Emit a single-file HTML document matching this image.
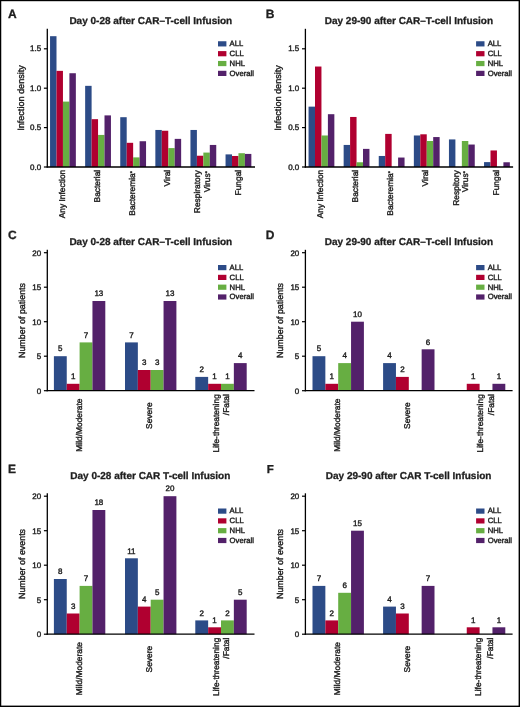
<!DOCTYPE html>
<html><head><meta charset="utf-8"><style>
html,body{margin:0;padding:0;background:#fff;}
body{width:520px;height:707px;overflow:hidden;}
svg{display:block;will-change:transform;}
text{font-family:"Liberation Sans", sans-serif;fill:#1e1e1e;text-rendering:geometricPrecision;stroke:#1e1e1e;stroke-width:0.4px;}
text[font-weight=bold]{stroke-width:0.3px;}
</style></head><body>
<svg width="520" height="707" viewBox="0 0 520 707">
<rect x="0" y="0" width="520" height="707" fill="#fff"/>
<text x="8.00" y="17.60" font-size="12" text-anchor="start" font-weight="bold">A</text>
<text x="150.80" y="23.60" font-size="10" text-anchor="middle" font-weight="bold">Day 0-28 after CAR–T-cell Infusion</text>
<rect x="50.05" y="36.19" width="6.45" height="130.81" fill="#2c4b87"/>
<rect x="56.50" y="70.86" width="6.45" height="96.14" fill="#b00030"/>
<rect x="62.95" y="101.60" width="6.45" height="65.40" fill="#67ae42"/>
<rect x="69.40" y="73.23" width="6.45" height="93.77" fill="#53216a"/>
<rect x="85.15" y="85.84" width="6.45" height="81.16" fill="#2c4b87"/>
<rect x="91.60" y="119.17" width="6.45" height="47.83" fill="#b00030"/>
<rect x="98.05" y="134.93" width="6.45" height="32.07" fill="#67ae42"/>
<rect x="104.50" y="115.39" width="6.45" height="51.61" fill="#53216a"/>
<rect x="120.25" y="117.20" width="6.45" height="49.80" fill="#2c4b87"/>
<rect x="126.70" y="142.81" width="6.45" height="24.19" fill="#b00030"/>
<rect x="133.15" y="157.39" width="6.45" height="9.61" fill="#67ae42"/>
<rect x="139.60" y="141.23" width="6.45" height="25.77" fill="#53216a"/>
<rect x="155.35" y="129.96" width="6.45" height="37.04" fill="#2c4b87"/>
<rect x="161.80" y="130.75" width="6.45" height="36.25" fill="#b00030"/>
<rect x="168.25" y="148.09" width="6.45" height="18.91" fill="#67ae42"/>
<rect x="174.70" y="138.87" width="6.45" height="28.13" fill="#53216a"/>
<rect x="190.45" y="129.96" width="6.45" height="37.04" fill="#2c4b87"/>
<rect x="196.90" y="155.73" width="6.45" height="11.27" fill="#b00030"/>
<rect x="203.35" y="152.58" width="6.45" height="14.42" fill="#67ae42"/>
<rect x="209.80" y="144.94" width="6.45" height="22.06" fill="#53216a"/>
<rect x="225.55" y="154.39" width="6.45" height="12.61" fill="#2c4b87"/>
<rect x="232.00" y="155.97" width="6.45" height="11.03" fill="#b00030"/>
<rect x="238.45" y="153.21" width="6.45" height="13.79" fill="#67ae42"/>
<rect x="244.90" y="153.92" width="6.45" height="13.08" fill="#53216a"/>
<line x1="47.30" y1="28.80" x2="47.30" y2="167.60" stroke="#000" stroke-width="1.3"/>
<line x1="46.65" y1="167.00" x2="255.00" y2="167.00" stroke="#000" stroke-width="1.3"/>
<line x1="43.90" y1="167.00" x2="47.30" y2="167.00" stroke="#000" stroke-width="1.2"/>
<text x="41.20" y="169.60" font-size="8" text-anchor="end">0.0</text>
<line x1="43.90" y1="127.60" x2="47.30" y2="127.60" stroke="#000" stroke-width="1.2"/>
<text x="41.20" y="130.20" font-size="8" text-anchor="end">0.5</text>
<line x1="43.90" y1="88.20" x2="47.30" y2="88.20" stroke="#000" stroke-width="1.2"/>
<text x="41.20" y="90.80" font-size="8" text-anchor="end">1.0</text>
<line x1="43.90" y1="48.80" x2="47.30" y2="48.80" stroke="#000" stroke-width="1.2"/>
<text x="41.20" y="51.40" font-size="8" text-anchor="end">1.5</text>
<text transform="translate(23.70,98.00) rotate(-90)" font-size="9.1" text-anchor="middle">Infection density</text>
<text transform="translate(64.90,169.80) rotate(-90)" font-size="8.4" text-anchor="end">Any Infection</text>
<text transform="translate(100.02,169.80) rotate(-90)" font-size="8.4" text-anchor="end">Bacterial</text>
<text transform="translate(135.14,171.10) rotate(-90)" font-size="8.4" text-anchor="end">Bacteremia<tspan font-size="5.6" dy="-1.1">*</tspan></text>
<text transform="translate(170.26,169.80) rotate(-90)" font-size="8.4" text-anchor="end">Viral</text>
<text transform="translate(200.48,170.30) rotate(-90)" font-size="8.4" text-anchor="end">Respiratory</text>
<text transform="translate(210.28,171.10) rotate(-90)" font-size="8.4" text-anchor="end">Virus<tspan font-size="5.6" dy="-1.1">*</tspan></text>
<text transform="translate(240.50,169.80) rotate(-90)" font-size="8.4" text-anchor="end">Fungal</text>
<rect x="218.00" y="41.25" width="8.40" height="5.20" fill="#2c4b87"/>
<text x="229.60" y="46.15" font-size="7.7" text-anchor="start">ALL</text>
<rect x="218.00" y="51.10" width="8.40" height="5.20" fill="#b00030"/>
<text x="229.60" y="56.00" font-size="7.7" text-anchor="start">CLL</text>
<rect x="218.00" y="60.95" width="8.40" height="5.20" fill="#67ae42"/>
<text x="229.60" y="65.85" font-size="7.7" text-anchor="start">NHL</text>
<rect x="218.00" y="70.80" width="8.40" height="5.20" fill="#53216a"/>
<text x="229.60" y="75.70" font-size="7.7" text-anchor="start">Overall</text>
<text x="265.70" y="17.60" font-size="12" text-anchor="start" font-weight="bold">B</text>
<text x="408.90" y="23.60" font-size="10" text-anchor="middle" font-weight="bold">Day 29-90 after CAR–T-cell Infusion</text>
<rect x="308.55" y="106.64" width="6.45" height="60.36" fill="#2c4b87"/>
<rect x="315.00" y="66.53" width="6.45" height="100.47" fill="#b00030"/>
<rect x="321.45" y="135.48" width="6.45" height="31.52" fill="#67ae42"/>
<rect x="327.90" y="114.20" width="6.45" height="52.80" fill="#53216a"/>
<rect x="343.65" y="144.94" width="6.45" height="22.06" fill="#2c4b87"/>
<rect x="350.10" y="116.96" width="6.45" height="50.04" fill="#b00030"/>
<rect x="356.55" y="162.27" width="6.45" height="4.73" fill="#67ae42"/>
<rect x="363.00" y="148.88" width="6.45" height="18.12" fill="#53216a"/>
<rect x="378.75" y="155.97" width="6.45" height="11.03" fill="#2c4b87"/>
<rect x="385.20" y="133.90" width="6.45" height="33.10" fill="#b00030"/>
<rect x="398.10" y="157.54" width="6.45" height="9.46" fill="#53216a"/>
<rect x="413.85" y="135.48" width="6.45" height="31.52" fill="#2c4b87"/>
<rect x="420.30" y="134.30" width="6.45" height="32.70" fill="#b00030"/>
<rect x="426.75" y="141.00" width="6.45" height="26.00" fill="#67ae42"/>
<rect x="433.20" y="137.06" width="6.45" height="29.94" fill="#53216a"/>
<rect x="448.95" y="139.42" width="6.45" height="27.58" fill="#2c4b87"/>
<rect x="461.85" y="141.00" width="6.45" height="26.00" fill="#67ae42"/>
<rect x="468.30" y="144.54" width="6.45" height="22.46" fill="#53216a"/>
<rect x="484.05" y="162.11" width="6.45" height="4.89" fill="#2c4b87"/>
<rect x="490.50" y="150.45" width="6.45" height="16.55" fill="#b00030"/>
<rect x="503.40" y="162.27" width="6.45" height="4.73" fill="#53216a"/>
<line x1="305.40" y1="28.80" x2="305.40" y2="167.60" stroke="#000" stroke-width="1.3"/>
<line x1="304.75" y1="167.00" x2="513.10" y2="167.00" stroke="#000" stroke-width="1.3"/>
<line x1="302.00" y1="167.00" x2="305.40" y2="167.00" stroke="#000" stroke-width="1.2"/>
<text x="299.30" y="169.60" font-size="8" text-anchor="end">0.0</text>
<line x1="302.00" y1="127.60" x2="305.40" y2="127.60" stroke="#000" stroke-width="1.2"/>
<text x="299.30" y="130.20" font-size="8" text-anchor="end">0.5</text>
<line x1="302.00" y1="88.20" x2="305.40" y2="88.20" stroke="#000" stroke-width="1.2"/>
<text x="299.30" y="90.80" font-size="8" text-anchor="end">1.0</text>
<line x1="302.00" y1="48.80" x2="305.40" y2="48.80" stroke="#000" stroke-width="1.2"/>
<text x="299.30" y="51.40" font-size="8" text-anchor="end">1.5</text>
<text transform="translate(281.10,98.00) rotate(-90)" font-size="9.1" text-anchor="middle">Infection density</text>
<text transform="translate(323.00,169.80) rotate(-90)" font-size="8.4" text-anchor="end">Any Infection</text>
<text transform="translate(358.12,169.80) rotate(-90)" font-size="8.4" text-anchor="end">Bacterial</text>
<text transform="translate(393.24,171.10) rotate(-90)" font-size="8.4" text-anchor="end">Bacteremia<tspan font-size="5.6" dy="-1.1">*</tspan></text>
<text transform="translate(428.36,169.80) rotate(-90)" font-size="8.4" text-anchor="end">Viral</text>
<text transform="translate(458.58,170.30) rotate(-90)" font-size="8.4" text-anchor="end">Respitory</text>
<text transform="translate(468.38,171.10) rotate(-90)" font-size="8.4" text-anchor="end">Virus<tspan font-size="5.6" dy="-1.1">*</tspan></text>
<text transform="translate(498.60,169.80) rotate(-90)" font-size="8.4" text-anchor="end">Fungal</text>
<rect x="476.10" y="41.25" width="8.40" height="5.20" fill="#2c4b87"/>
<text x="487.70" y="46.15" font-size="7.7" text-anchor="start">ALL</text>
<rect x="476.10" y="51.10" width="8.40" height="5.20" fill="#b00030"/>
<text x="487.70" y="56.00" font-size="7.7" text-anchor="start">CLL</text>
<rect x="476.10" y="60.95" width="8.40" height="5.20" fill="#67ae42"/>
<text x="487.70" y="65.85" font-size="7.7" text-anchor="start">NHL</text>
<rect x="476.10" y="70.80" width="8.40" height="5.20" fill="#53216a"/>
<text x="487.70" y="75.70" font-size="7.7" text-anchor="start">Overall</text>
<text x="8.00" y="238.85" font-size="12" text-anchor="start" font-weight="bold">C</text>
<text x="150.80" y="244.70" font-size="10" text-anchor="middle" font-weight="bold">Day 0-28 after CAR–T-cell Infusion</text>
<rect x="53.90" y="356.20" width="12.85" height="34.50" fill="#2c4b87"/>
<text x="60.32" y="351.40" font-size="8" text-anchor="middle">5</text>
<rect x="66.75" y="383.80" width="12.85" height="6.90" fill="#b00030"/>
<text x="73.17" y="379.00" font-size="8" text-anchor="middle">1</text>
<rect x="79.60" y="342.40" width="12.85" height="48.30" fill="#67ae42"/>
<text x="86.02" y="337.60" font-size="8" text-anchor="middle">7</text>
<rect x="92.45" y="301.00" width="12.85" height="89.70" fill="#53216a"/>
<text x="98.87" y="296.20" font-size="8" text-anchor="middle">13</text>
<rect x="125.00" y="342.40" width="12.85" height="48.30" fill="#2c4b87"/>
<text x="131.43" y="337.60" font-size="8" text-anchor="middle">7</text>
<rect x="137.85" y="370.00" width="12.85" height="20.70" fill="#b00030"/>
<text x="144.28" y="365.20" font-size="8" text-anchor="middle">3</text>
<rect x="150.70" y="370.00" width="12.85" height="20.70" fill="#67ae42"/>
<text x="157.12" y="365.20" font-size="8" text-anchor="middle">3</text>
<rect x="163.55" y="301.00" width="12.85" height="89.70" fill="#53216a"/>
<text x="169.98" y="296.20" font-size="8" text-anchor="middle">13</text>
<rect x="195.30" y="376.90" width="12.85" height="13.80" fill="#2c4b87"/>
<text x="201.73" y="372.10" font-size="8" text-anchor="middle">2</text>
<rect x="208.15" y="383.80" width="12.85" height="6.90" fill="#b00030"/>
<text x="214.58" y="379.00" font-size="8" text-anchor="middle">1</text>
<rect x="221.00" y="383.80" width="12.85" height="6.90" fill="#67ae42"/>
<text x="227.43" y="379.00" font-size="8" text-anchor="middle">1</text>
<rect x="233.85" y="363.10" width="12.85" height="27.60" fill="#53216a"/>
<text x="240.28" y="358.30" font-size="8" text-anchor="middle">4</text>
<line x1="47.30" y1="249.80" x2="47.30" y2="391.30" stroke="#000" stroke-width="1.3"/>
<line x1="46.65" y1="390.70" x2="254.50" y2="390.70" stroke="#000" stroke-width="1.3"/>
<line x1="43.90" y1="390.70" x2="47.30" y2="390.70" stroke="#000" stroke-width="1.2"/>
<text x="41.20" y="393.60" font-size="8" text-anchor="end">0</text>
<line x1="43.90" y1="356.20" x2="47.30" y2="356.20" stroke="#000" stroke-width="1.2"/>
<text x="41.20" y="359.10" font-size="8" text-anchor="end">5</text>
<line x1="43.90" y1="321.70" x2="47.30" y2="321.70" stroke="#000" stroke-width="1.2"/>
<text x="41.20" y="324.60" font-size="8" text-anchor="end">10</text>
<line x1="43.90" y1="287.20" x2="47.30" y2="287.20" stroke="#000" stroke-width="1.2"/>
<text x="41.20" y="290.10" font-size="8" text-anchor="end">15</text>
<line x1="43.90" y1="252.70" x2="47.30" y2="252.70" stroke="#000" stroke-width="1.2"/>
<text x="41.20" y="255.60" font-size="8" text-anchor="end">20</text>
<text transform="translate(25.00,320.50) rotate(-90)" font-size="8.9" text-anchor="middle">Number of patients</text>
<text transform="translate(81.60,398.60) rotate(-90)" font-size="8.4" text-anchor="end">Mild/Moderate</text>
<text transform="translate(152.20,402.40) rotate(-90)" font-size="8.4" text-anchor="end">Severe</text>
<text transform="translate(219.00,394.20) rotate(-90)" font-size="8.4" text-anchor="end">Life-threatening</text>
<text transform="translate(228.90,394.20) rotate(-90)" font-size="8.4" text-anchor="end">/Fatal</text>
<rect x="218.00" y="265.00" width="8.40" height="5.20" fill="#2c4b87"/>
<text x="229.60" y="269.90" font-size="7.7" text-anchor="start">ALL</text>
<rect x="218.00" y="274.80" width="8.40" height="5.20" fill="#b00030"/>
<text x="229.60" y="279.70" font-size="7.7" text-anchor="start">CLL</text>
<rect x="218.00" y="284.60" width="8.40" height="5.20" fill="#67ae42"/>
<text x="229.60" y="289.50" font-size="7.7" text-anchor="start">NHL</text>
<rect x="218.00" y="294.40" width="8.40" height="5.20" fill="#53216a"/>
<text x="229.60" y="299.30" font-size="7.7" text-anchor="start">Overall</text>
<text x="265.70" y="238.85" font-size="12" text-anchor="start" font-weight="bold">D</text>
<text x="408.90" y="244.70" font-size="10" text-anchor="middle" font-weight="bold">Day 29-90 after CAR–T-cell Infusion</text>
<rect x="312.50" y="356.20" width="12.85" height="34.50" fill="#2c4b87"/>
<text x="318.93" y="351.40" font-size="8" text-anchor="middle">5</text>
<rect x="325.35" y="383.80" width="12.85" height="6.90" fill="#b00030"/>
<text x="331.78" y="379.00" font-size="8" text-anchor="middle">1</text>
<rect x="338.20" y="363.10" width="12.85" height="27.60" fill="#67ae42"/>
<text x="344.62" y="358.30" font-size="8" text-anchor="middle">4</text>
<rect x="351.05" y="321.70" width="12.85" height="69.00" fill="#53216a"/>
<text x="357.48" y="316.90" font-size="8" text-anchor="middle">10</text>
<rect x="383.10" y="363.10" width="12.85" height="27.60" fill="#2c4b87"/>
<text x="389.53" y="358.30" font-size="8" text-anchor="middle">4</text>
<rect x="395.95" y="376.90" width="12.85" height="13.80" fill="#b00030"/>
<text x="402.38" y="372.10" font-size="8" text-anchor="middle">2</text>
<rect x="421.65" y="349.30" width="12.85" height="41.40" fill="#53216a"/>
<text x="428.08" y="344.50" font-size="8" text-anchor="middle">6</text>
<rect x="466.75" y="383.80" width="12.85" height="6.90" fill="#b00030"/>
<text x="473.18" y="379.00" font-size="8" text-anchor="middle">1</text>
<rect x="492.45" y="383.80" width="12.85" height="6.90" fill="#53216a"/>
<text x="498.88" y="379.00" font-size="8" text-anchor="middle">1</text>
<line x1="305.40" y1="249.80" x2="305.40" y2="391.30" stroke="#000" stroke-width="1.3"/>
<line x1="304.75" y1="390.70" x2="512.60" y2="390.70" stroke="#000" stroke-width="1.3"/>
<line x1="302.00" y1="390.70" x2="305.40" y2="390.70" stroke="#000" stroke-width="1.2"/>
<text x="299.30" y="393.60" font-size="8" text-anchor="end">0</text>
<line x1="302.00" y1="356.20" x2="305.40" y2="356.20" stroke="#000" stroke-width="1.2"/>
<text x="299.30" y="359.10" font-size="8" text-anchor="end">5</text>
<line x1="302.00" y1="321.70" x2="305.40" y2="321.70" stroke="#000" stroke-width="1.2"/>
<text x="299.30" y="324.60" font-size="8" text-anchor="end">10</text>
<line x1="302.00" y1="287.20" x2="305.40" y2="287.20" stroke="#000" stroke-width="1.2"/>
<text x="299.30" y="290.10" font-size="8" text-anchor="end">15</text>
<line x1="302.00" y1="252.70" x2="305.40" y2="252.70" stroke="#000" stroke-width="1.2"/>
<text x="299.30" y="255.60" font-size="8" text-anchor="end">20</text>
<text transform="translate(283.10,320.50) rotate(-90)" font-size="8.9" text-anchor="middle">Number of patients</text>
<text transform="translate(339.70,398.60) rotate(-90)" font-size="8.4" text-anchor="end">Mild/Moderate</text>
<text transform="translate(410.30,402.40) rotate(-90)" font-size="8.4" text-anchor="end">Severe</text>
<text transform="translate(482.60,394.20) rotate(-90)" font-size="8.4" text-anchor="end">Life-threatening</text>
<text transform="translate(493.50,394.20) rotate(-90)" font-size="8.4" text-anchor="end">/Fatal</text>
<rect x="476.10" y="265.00" width="8.40" height="5.20" fill="#2c4b87"/>
<text x="487.70" y="269.90" font-size="7.7" text-anchor="start">ALL</text>
<rect x="476.10" y="274.80" width="8.40" height="5.20" fill="#b00030"/>
<text x="487.70" y="279.70" font-size="7.7" text-anchor="start">CLL</text>
<rect x="476.10" y="284.60" width="8.40" height="5.20" fill="#67ae42"/>
<text x="487.70" y="289.50" font-size="7.7" text-anchor="start">NHL</text>
<rect x="476.10" y="294.40" width="8.40" height="5.20" fill="#53216a"/>
<text x="487.70" y="299.30" font-size="7.7" text-anchor="start">Overall</text>
<text x="8.00" y="472.85" font-size="12" text-anchor="start" font-weight="bold">E</text>
<text x="150.30" y="478.70" font-size="10" text-anchor="middle" font-weight="bold">Day 0-28 after CAR T-cell Infusion</text>
<rect x="53.90" y="579.00" width="12.85" height="55.20" fill="#2c4b87"/>
<text x="60.32" y="574.20" font-size="8" text-anchor="middle">8</text>
<rect x="66.75" y="613.50" width="12.85" height="20.70" fill="#b00030"/>
<text x="73.17" y="608.70" font-size="8" text-anchor="middle">3</text>
<rect x="79.60" y="585.90" width="12.85" height="48.30" fill="#67ae42"/>
<text x="86.02" y="581.10" font-size="8" text-anchor="middle">7</text>
<rect x="92.45" y="510.00" width="12.85" height="124.20" fill="#53216a"/>
<text x="98.87" y="505.20" font-size="8" text-anchor="middle">18</text>
<rect x="125.00" y="558.30" width="12.85" height="75.90" fill="#2c4b87"/>
<text x="131.43" y="553.50" font-size="8" text-anchor="middle">11</text>
<rect x="137.85" y="606.60" width="12.85" height="27.60" fill="#b00030"/>
<text x="144.28" y="601.80" font-size="8" text-anchor="middle">4</text>
<rect x="150.70" y="599.70" width="12.85" height="34.50" fill="#67ae42"/>
<text x="157.12" y="594.90" font-size="8" text-anchor="middle">5</text>
<rect x="163.55" y="496.20" width="12.85" height="138.00" fill="#53216a"/>
<text x="169.98" y="491.40" font-size="8" text-anchor="middle">20</text>
<rect x="195.30" y="620.40" width="12.85" height="13.80" fill="#2c4b87"/>
<text x="201.73" y="615.60" font-size="8" text-anchor="middle">2</text>
<rect x="208.15" y="627.30" width="12.85" height="6.90" fill="#b00030"/>
<text x="214.58" y="622.50" font-size="8" text-anchor="middle">1</text>
<rect x="221.00" y="620.40" width="12.85" height="13.80" fill="#67ae42"/>
<text x="227.43" y="615.60" font-size="8" text-anchor="middle">2</text>
<rect x="233.85" y="599.70" width="12.85" height="34.50" fill="#53216a"/>
<text x="240.28" y="594.90" font-size="8" text-anchor="middle">5</text>
<line x1="47.30" y1="493.30" x2="47.30" y2="634.80" stroke="#000" stroke-width="1.3"/>
<line x1="46.65" y1="634.20" x2="254.50" y2="634.20" stroke="#000" stroke-width="1.3"/>
<line x1="43.90" y1="634.20" x2="47.30" y2="634.20" stroke="#000" stroke-width="1.2"/>
<text x="41.20" y="637.10" font-size="8" text-anchor="end">0</text>
<line x1="43.90" y1="599.70" x2="47.30" y2="599.70" stroke="#000" stroke-width="1.2"/>
<text x="41.20" y="602.60" font-size="8" text-anchor="end">5</text>
<line x1="43.90" y1="565.20" x2="47.30" y2="565.20" stroke="#000" stroke-width="1.2"/>
<text x="41.20" y="568.10" font-size="8" text-anchor="end">10</text>
<line x1="43.90" y1="530.70" x2="47.30" y2="530.70" stroke="#000" stroke-width="1.2"/>
<text x="41.20" y="533.60" font-size="8" text-anchor="end">15</text>
<line x1="43.90" y1="496.20" x2="47.30" y2="496.20" stroke="#000" stroke-width="1.2"/>
<text x="41.20" y="499.10" font-size="8" text-anchor="end">20</text>
<text transform="translate(25.00,564.00) rotate(-90)" font-size="8.9" text-anchor="middle">Number of events</text>
<text transform="translate(81.60,642.10) rotate(-90)" font-size="8.4" text-anchor="end">Mild/Moderate</text>
<text transform="translate(152.20,645.90) rotate(-90)" font-size="8.4" text-anchor="end">Severe</text>
<text transform="translate(219.00,637.70) rotate(-90)" font-size="8.4" text-anchor="end">Life-threatening</text>
<text transform="translate(229.40,637.70) rotate(-90)" font-size="8.4" text-anchor="end">/Fatal</text>
<rect x="218.00" y="508.50" width="8.40" height="5.20" fill="#2c4b87"/>
<text x="229.60" y="513.40" font-size="7.7" text-anchor="start">ALL</text>
<rect x="218.00" y="518.30" width="8.40" height="5.20" fill="#b00030"/>
<text x="229.60" y="523.20" font-size="7.7" text-anchor="start">CLL</text>
<rect x="218.00" y="528.10" width="8.40" height="5.20" fill="#67ae42"/>
<text x="229.60" y="533.00" font-size="7.7" text-anchor="start">NHL</text>
<rect x="218.00" y="537.90" width="8.40" height="5.20" fill="#53216a"/>
<text x="229.60" y="542.80" font-size="7.7" text-anchor="start">Overall</text>
<text x="266.80" y="472.55" font-size="11.5" text-anchor="start" font-weight="bold">F</text>
<text x="408.60" y="478.70" font-size="10" text-anchor="middle" font-weight="bold">Day 29-90 after CAR T-cell Infusion</text>
<rect x="312.50" y="585.90" width="12.85" height="48.30" fill="#2c4b87"/>
<text x="318.93" y="581.10" font-size="8" text-anchor="middle">7</text>
<rect x="325.35" y="620.40" width="12.85" height="13.80" fill="#b00030"/>
<text x="331.78" y="615.60" font-size="8" text-anchor="middle">2</text>
<rect x="338.20" y="592.80" width="12.85" height="41.40" fill="#67ae42"/>
<text x="344.62" y="588.00" font-size="8" text-anchor="middle">6</text>
<rect x="351.05" y="530.70" width="12.85" height="103.50" fill="#53216a"/>
<text x="357.48" y="525.90" font-size="8" text-anchor="middle">15</text>
<rect x="383.10" y="606.60" width="12.85" height="27.60" fill="#2c4b87"/>
<text x="389.53" y="601.80" font-size="8" text-anchor="middle">4</text>
<rect x="395.95" y="613.50" width="12.85" height="20.70" fill="#b00030"/>
<text x="402.38" y="608.70" font-size="8" text-anchor="middle">3</text>
<rect x="421.65" y="585.90" width="12.85" height="48.30" fill="#53216a"/>
<text x="428.08" y="581.10" font-size="8" text-anchor="middle">7</text>
<rect x="466.75" y="627.30" width="12.85" height="6.90" fill="#b00030"/>
<text x="473.18" y="622.50" font-size="8" text-anchor="middle">1</text>
<rect x="492.45" y="627.30" width="12.85" height="6.90" fill="#53216a"/>
<text x="498.88" y="622.50" font-size="8" text-anchor="middle">1</text>
<line x1="305.40" y1="493.30" x2="305.40" y2="634.80" stroke="#000" stroke-width="1.3"/>
<line x1="304.75" y1="634.20" x2="512.60" y2="634.20" stroke="#000" stroke-width="1.3"/>
<line x1="302.00" y1="634.20" x2="305.40" y2="634.20" stroke="#000" stroke-width="1.2"/>
<text x="299.30" y="637.10" font-size="8" text-anchor="end">0</text>
<line x1="302.00" y1="599.70" x2="305.40" y2="599.70" stroke="#000" stroke-width="1.2"/>
<text x="299.30" y="602.60" font-size="8" text-anchor="end">5</text>
<line x1="302.00" y1="565.20" x2="305.40" y2="565.20" stroke="#000" stroke-width="1.2"/>
<text x="299.30" y="568.10" font-size="8" text-anchor="end">10</text>
<line x1="302.00" y1="530.70" x2="305.40" y2="530.70" stroke="#000" stroke-width="1.2"/>
<text x="299.30" y="533.60" font-size="8" text-anchor="end">15</text>
<line x1="302.00" y1="496.20" x2="305.40" y2="496.20" stroke="#000" stroke-width="1.2"/>
<text x="299.30" y="499.10" font-size="8" text-anchor="end">20</text>
<text transform="translate(283.10,564.00) rotate(-90)" font-size="8.9" text-anchor="middle">Number of events</text>
<text transform="translate(339.70,642.10) rotate(-90)" font-size="8.4" text-anchor="end">Mild/Moderate</text>
<text transform="translate(410.30,645.90) rotate(-90)" font-size="8.4" text-anchor="end">Severe</text>
<text transform="translate(481.10,637.70) rotate(-90)" font-size="8.4" text-anchor="end">Life-threatening</text>
<text transform="translate(492.50,637.70) rotate(-90)" font-size="8.4" text-anchor="end">/Fatal</text>
<rect x="476.10" y="508.50" width="8.40" height="5.20" fill="#2c4b87"/>
<text x="487.70" y="513.40" font-size="7.7" text-anchor="start">ALL</text>
<rect x="476.10" y="518.30" width="8.40" height="5.20" fill="#b00030"/>
<text x="487.70" y="523.20" font-size="7.7" text-anchor="start">CLL</text>
<rect x="476.10" y="528.10" width="8.40" height="5.20" fill="#67ae42"/>
<text x="487.70" y="533.00" font-size="7.7" text-anchor="start">NHL</text>
<rect x="476.10" y="537.90" width="8.40" height="5.20" fill="#53216a"/>
<text x="487.70" y="542.80" font-size="7.7" text-anchor="start">Overall</text>
<rect x="0" y="0" width="520" height="1.2" fill="#000"/><rect x="0" y="0" width="1.25" height="707" fill="#000"/><rect x="518.6" y="0" width="1.4" height="707" fill="#000"/><rect x="0" y="705.6" width="520" height="1.4" fill="#000"/>
</svg>
</body></html>
